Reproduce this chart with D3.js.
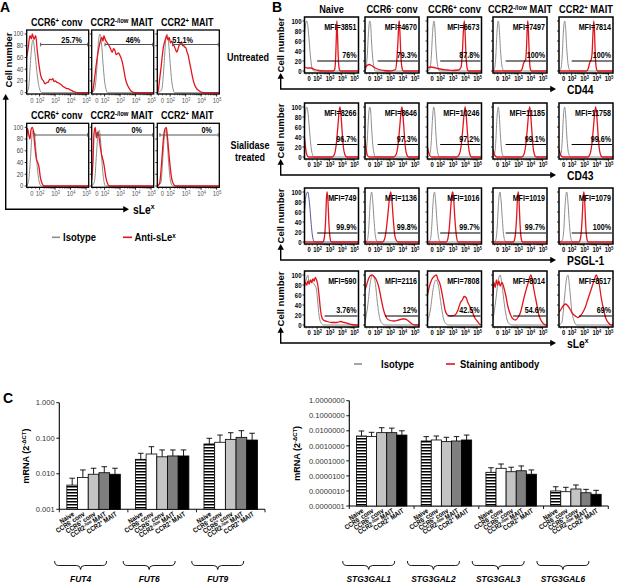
<!DOCTYPE html>
<html>
<head>
<meta charset="utf-8">
<script src="https://cdn.jsdelivr.net/npm/d3@7"></script>
<style>
  html, body { margin: 0; padding: 0; background: #fff; }
  svg { display: block; }
</style>
</head>
<body>
<script>
// ── Data ──────────────────────────────────────────────────────────────────
// Histogram points are [decade position, % of max]; 2 = 10^2, 3 = 10^3 ...

// Panel A: sLeX on sorted subsets, untreated vs sialidase treated
var A_COLS = ["CCR6^+^ conv", "CCR2^-/low^ MAIT", "CCR2^+^ MAIT"];
var A_ROWS = [["Untreated"], ["Sialidase", "treated"]];
var A_PCT  = [["25.7%", "46%", "51.1%"], ["0%", "0%", "0%"]];
var A_GATE = [[2.07, 2.03, 2.16], [1.7, 1.49, 1.34]];

var A_ISO_UNT = [
  [[1.17,0],[1.3,10],[1.42,55],[1.52,85],[1.58,90],[1.65,80],[1.75,55],[1.85,30],[1.95,12],[2.05,3],[2.15,0],[5.14,0]],
  [[1.17,0],[1.35,5],[1.5,40],[1.6,85],[1.7,100],[1.8,85],[1.9,50],[2.0,20],[2.1,5],[2.2,0],[5.14,0]],
  [[1.17,0],[1.45,5],[1.6,45],[1.7,85],[1.8,100],[1.9,85],[2.0,50],[2.1,20],[2.2,5],[2.3,0],[5.14,0]]
];
var A_RED_UNT = [
  [[1.17,60],[1.27,77],[1.38,97],[1.47,92],[1.53,100],[1.64,91],[1.75,97],[1.85,72],[1.98,44],[2.07,30],[2.14,24],
   [2.25,20],[2.35,15],[2.45,17],[2.56,18],[2.66,23],[2.78,22],[2.86,24],[2.93,19],[3.02,20],[3.1,18],[3.2,17],
   [3.32,15],[3.42,13],[3.53,10],[3.63,9],[3.75,7],[3.85,7],[3.96,5],[4.07,4],[4.18,2],[4.3,1],[4.43,0],[5.14,0]],
  [[1.17,0],[1.25,5],[1.34,21],[1.45,45],[1.6,72],[1.7,85],[1.82,94],[1.9,88],[1.96,97],[2.05,90],[2.14,86],
   [2.25,82],[2.35,77],[2.43,72],[2.5,69],[2.58,75],[2.67,72],[2.75,65],[2.82,66],[2.9,68],[3.0,63],[3.08,58],
   [3.17,49],[3.25,38],[3.32,27],[3.42,17],[3.53,10],[3.65,5],[3.75,2],[3.96,0],[5.14,0]],
  [[1.17,0],[1.24,5],[1.3,18],[1.42,45],[1.56,77],[1.68,90],[1.78,97],[1.86,90],[1.94,94],[2.02,85],[2.1,88],
   [2.18,82],[2.25,80],[2.34,74],[2.42,69],[2.5,74],[2.57,80],[2.66,84],[2.74,86],[2.8,80],[2.85,82],[2.92,78],
   [3.0,77],[3.08,70],[3.17,63],[3.25,52],[3.32,43],[3.4,32],[3.49,21],[3.6,12],[3.71,7],[3.82,4],[3.93,2],[4.14,0],[5.14,0]]
];
var A_ISO_SIA = [
  [[1.17,0],[1.3,10],[1.42,50],[1.52,88],[1.6,95],[1.7,82],[1.8,50],[1.9,20],[2.0,5],[2.1,0],[5.14,0]],
  [[1.17,0],[1.35,8],[1.48,55],[1.58,90],[1.66,95],[1.75,75],[1.85,35],[1.95,10],[2.05,0],[5.14,0]],
  [[1.17,0],[1.4,5],[1.52,45],[1.63,85],[1.72,95],[1.8,80],[1.9,40],[2.0,12],[2.1,2],[2.2,0],[5.14,0]]
];
var A_RED_SIA = [
  [[1.17,85],[1.22,98],[1.3,88],[1.38,80],[1.45,96],[1.52,100],[1.6,94],[1.68,72],[1.78,48],[1.88,40],[1.96,33],
   [2.05,15],[2.15,5],[2.3,0],[5.14,0]],
  [[1.17,10],[1.25,40],[1.32,90],[1.4,100],[1.47,82],[1.55,92],[1.63,85],[1.72,68],[1.82,52],[1.92,42],[2.0,30],
   [2.08,15],[2.18,5],[2.3,0],[5.14,0]],
  [[1.17,0],[1.32,5],[1.45,40],[1.58,85],[1.68,98],[1.75,100],[1.83,82],[1.92,55],[2.02,28],[2.12,10],[2.22,3],
   [2.35,0],[5.14,0]]
];

// Panel B: surface markers on five subsets
var B_COLS    = ["Naive", "CCR6^-^ conv", "CCR6^+^ conv", "CCR2^-/low^ MAIT", "CCR2^+^ MAIT"];
var B_MARKERS = ["CD44", "CD43", "PSGL-1", "sLe^x^"];
var B_MFI = [
  [3851, 4670, 6673, 7497, 7814],
  [8266, 8646, 10246, 11185, 11758],
  [749, 1136, 1016, 1019, 1079],
  [590, 2116, 7808, 8014, 8517]
];
var B_PCT = [
  ["76%", "79.3%", "87.8%", "100%", "100%"],
  ["96.7%", "97.3%", "97.2%", "99.1%", "99.6%"],
  ["99.9%", "99.8%", "99.7%", "99.7%", "100%"],
  ["3.76%", "12%", "42.5%", "54.6%", "69%"]
];
var B_GATE_LEVEL = [20, 25, 18, 18];
var B_GATE_START = [2.0, 2.0, 2.0, 2.6];

var B_ISO_CD44 = [
  [[0.97,70],[1.05,92],[1.15,100],[1.25,88],[1.35,60],[1.45,30],[1.55,10],[1.65,2],[1.75,0],[5.36,0]],
  [[0.97,0],[1.05,5],[1.15,30],[1.25,75],[1.35,100],[1.42,95],[1.5,60],[1.6,25],[1.7,8],[1.8,0],[5.36,0]],
  [[0.97,0],[1.15,3],[1.27,25],[1.38,75],[1.48,100],[1.56,90],[1.65,50],[1.75,18],[1.85,4],[1.95,0],[5.36,0]],
  [[0.97,0],[1.1,5],[1.2,30],[1.3,80],[1.4,100],[1.48,85],[1.57,45],[1.67,15],[1.78,3],[1.9,0],[5.36,0]],
  [[0.97,0],[1.13,5],[1.23,30],[1.33,80],[1.43,100],[1.51,85],[1.6,45],[1.7,15],[1.81,3],[1.93,0],[5.36,0]]
];
var B_RED_CD44 = [
  [[0.97,8],[1.2,6],[1.5,6],[1.8,3],[2.1,1],[2.5,0],[3.3,0],[3.42,3],[3.5,25],[3.56,70],[3.6,100],[3.65,75],
   [3.72,25],[3.8,4],[3.9,0],[5.36,0]],
  [[0.97,6],[1.1,10],[1.3,13],[1.5,11],[1.8,6],[2.1,3],[2.5,1],[3.0,0],[3.45,3],[3.55,20],[3.65,60],[3.72,95],
   [3.76,100],[3.82,70],[3.9,25],[4.0,4],[4.1,0],[5.36,0]],
  [[0.97,6],[1.2,8],[1.5,7],[1.8,5],[2.2,3],[2.6,2],[3.0,1],[3.5,2],[3.7,8],[3.8,35],[3.9,85],[3.96,100],[4.02,80],
   [4.1,30],[4.2,5],[4.3,0],[5.36,0]],
  [[0.97,0],[3.2,0],[3.35,5],[3.45,15],[3.55,20],[3.62,22],[3.7,50],[3.76,90],[3.8,100],[3.85,80],[3.92,30],
   [4.0,5],[4.1,0],[5.36,0]],
  [[0.97,0],[3.2,0],[3.35,5],[3.48,18],[3.58,22],[3.66,35],[3.74,80],[3.8,100],[3.86,75],[3.93,25],[4.02,4],
   [4.1,0],[5.36,0]]
];
var B_ISO_CD43 = [
  [[0.97,65],[1.05,90],[1.15,100],[1.25,90],[1.35,62],[1.45,32],[1.55,12],[1.65,3],[1.75,0],[5.36,0]],
  [[0.97,0],[1.05,6],[1.15,32],[1.25,78],[1.35,100],[1.43,92],[1.5,62],[1.6,25],[1.7,8],[1.8,0],[5.36,0]],
  [[0.97,0],[1.15,4],[1.27,28],[1.38,78],[1.48,100],[1.56,88],[1.65,48],[1.75,16],[1.85,4],[1.95,0],[5.36,0]],
  [[0.97,0],[1.1,6],[1.2,32],[1.3,82],[1.4,100],[1.48,84],[1.57,44],[1.67,14],[1.78,3],[1.9,0],[5.36,0]],
  [[0.97,0],[1.13,6],[1.23,32],[1.33,82],[1.43,100],[1.51,84],[1.6,44],[1.7,14],[1.81,3],[1.93,0],[5.36,0]]
];
var B_RED_CD43 = [
  [[0.97,40],[1.05,20],[1.15,5],[1.3,0],[3.2,0],[3.4,5],[3.55,25],[3.68,60],[3.78,90],[3.85,100],[3.92,88],
   [4.02,55],[4.12,22],[4.25,5],[4.4,0],[5.36,0]],
  [[0.97,35],[1.05,18],[1.15,4],[1.3,0],[3.3,0],[3.5,5],[3.66,25],[3.8,62],[3.9,90],[3.97,100],[4.04,88],
   [4.14,55],[4.24,22],[4.36,5],[4.5,0],[5.36,0]],
  [[0.97,20],[1.05,10],[1.15,3],[1.3,0],[3.35,0],[3.55,5],[3.72,25],[3.86,62],[3.96,90],[4.03,100],[4.1,88],
   [4.2,55],[4.3,22],[4.42,5],[4.55,0],[5.36,0]],
  [[0.97,15],[1.05,8],[1.15,2],[1.3,0],[3.3,0],[3.48,5],[3.64,25],[3.78,62],[3.88,90],[3.95,100],[4.02,88],
   [4.12,55],[4.22,22],[4.34,5],[4.48,0],[5.36,0]],
  [[0.97,15],[1.05,8],[1.15,2],[1.3,0],[3.3,0],[3.48,5],[3.64,25],[3.78,62],[3.88,90],[3.95,100],[4.02,88],
   [4.12,55],[4.22,22],[4.34,5],[4.48,0],[5.36,0]]
];
var B_ISO_PSGL = [
  [[0.97,60],[1.05,85],[1.15,98],[1.24,100],[1.32,90],[1.42,65],[1.52,35],[1.62,12],[1.72,2],[1.8,0],[5.36,0]],
  [[0.97,0],[1.15,3],[1.27,25],[1.38,75],[1.48,98],[1.51,100],[1.6,82],[1.7,45],[1.8,15],[1.9,3],[2.0,0],[5.36,0]],
  [[0.97,0],[1.18,3],[1.3,25],[1.41,75],[1.5,98],[1.54,100],[1.63,82],[1.73,45],[1.83,15],[1.93,3],[2.03,0],[5.36,0]],
  [[0.97,0],[1.18,3],[1.3,25],[1.41,75],[1.5,98],[1.54,100],[1.63,82],[1.73,45],[1.83,15],[1.93,3],[2.03,0],[5.36,0]],
  [[0.97,0],[1.24,3],[1.36,25],[1.47,75],[1.56,98],[1.6,100],[1.69,82],[1.79,45],[1.89,15],[1.99,3],[2.09,0],[5.36,0]]
];
var B_RED_PSGL = [
  [[0.97,0],[2.45,0],[2.58,8],[2.68,40],[2.76,90],[2.81,100],[2.87,85],[2.95,40],[3.05,8],[3.15,0],[5.36,0]],
  [[0.97,0],[2.4,0],[2.55,5],[2.7,25],[2.85,60],[2.97,90],[3.06,100],[3.15,85],[3.27,45],[3.4,12],[3.55,2],[3.65,0],[5.36,0]],
  [[0.97,0],[2.5,0],[2.62,6],[2.75,30],[2.88,75],[2.97,97],[3.03,100],[3.1,85],[3.2,45],[3.32,12],[3.45,0],[5.36,0]],
  [[0.97,0],[2.62,0],[2.75,8],[2.88,45],[2.97,92],[3.03,100],[3.09,80],[3.17,35],[3.27,6],[3.37,0],[5.36,0]],
  [[0.97,0],[2.59,0],[2.72,8],[2.85,45],[2.94,92],[3.0,100],[3.06,80],[3.14,35],[3.24,6],[3.34,0],[5.36,0]]
];
var B_ISO_SLEX = [
  [[0.97,75],[1.1,90],[1.25,100],[1.35,85],[1.5,90],[1.65,85],[1.8,80],[1.95,70],[2.05,45],[2.15,20],[2.3,5],[2.5,0],[5.36,0]],
  [[0.97,5],[1.2,40],[1.4,85],[1.6,100],[1.8,85],[2.0,40],[2.2,10],[2.4,2],[2.6,0],[5.36,0]],
  [[0.97,5],[1.2,30],[1.45,75],[1.65,90],[1.85,80],[2.05,45],[2.25,15],[2.45,3],[2.7,0],[5.36,0]],
  [[0.97,10],[1.2,50],[1.4,90],[1.55,100],[1.7,80],[1.9,40],[2.1,12],[2.3,2],[2.5,0],[5.36,0]],
  [[0.97,0],[1.2,5],[1.4,50],[1.6,95],[1.7,100],[1.85,70],[2.0,30],[2.2,8],[2.4,0],[5.36,0]]
];
var B_RED_SLEX = [
  [[0.97,82],[1.05,85],[1.15,80],[1.25,88],[1.35,82],[1.45,90],[1.55,85],[1.65,92],[1.75,88],[1.85,95],[1.95,90],
   [2.05,80],[2.15,60],[2.25,35],[2.35,18],[2.5,10],[2.8,7],[3.2,5],[3.6,5],[3.9,7],[4.2,5],[4.5,3],[4.8,1],[5.1,0],[5.36,0]],
  [[0.97,70],[1.1,80],[1.3,95],[1.5,100],[1.7,97],[1.9,90],[2.1,75],[2.3,50],[2.5,28],[2.7,15],[2.9,10],[3.3,8],
   [3.7,10],[4.0,12],[4.2,12],[4.4,10],[4.6,6],[4.8,2],[5.0,0],[5.36,0]],
  [[0.97,60],[1.1,75],[1.3,90],[1.5,97],[1.7,100],[1.8,92],[1.95,85],[2.1,70],[2.25,50],[2.4,30],[2.6,20],[2.9,18],
   [3.2,20],[3.45,30],[3.65,45],[3.8,50],[3.95,57],[4.1,55],[4.25,45],[4.4,38],[4.6,28],[4.8,15],[5.0,8],[5.2,2],[5.35,0]],
  [[0.97,60],[1.05,85],[1.15,75],[1.25,90],[1.35,80],[1.45,88],[1.55,78],[1.7,85],[1.85,75],[2.0,60],[2.2,35],
   [2.4,20],[2.6,12],[2.8,10],[3.0,15],[3.2,25],[3.4,45],[3.6,65],[3.8,82],[3.95,95],[4.05,100],[4.15,92],[4.3,70],
   [4.5,45],[4.7,20],[4.9,8],[5.1,2],[5.3,0]],
  [[0.97,25],[1.1,30],[1.3,38],[1.5,42],[1.7,38],[1.9,30],[2.1,22],[2.3,18],[2.5,15],[2.7,18],[2.9,25],[3.1,35],
   [3.3,50],[3.5,65],[3.7,80],[3.9,95],[4.0,100],[4.1,95],[4.25,80],[4.4,55],[4.6,30],[4.8,12],[5.0,4],[5.2,0],[5.36,0]]
];
var B_ISO = [B_ISO_CD44, B_ISO_CD43, B_ISO_PSGL, B_ISO_SLEX];
var B_RED = [B_RED_CD44, B_RED_CD43, B_RED_PSGL, B_RED_SLEX];

// Panel C: qPCR, mRNA (2^-dCT), mean and upper error
var C_CELLS = ["Naive", "CCR6^-^ conv", "CCR6^+^ conv", "CCR2^-/low^ MAIT", "CCR2^+^ MAIT"];
var FUT_GENES = ["FUT4", "FUT6", "FUT9"];
var FUT_MEAN  = [[0.0048, 0.0079, 0.0097, 0.0107, 0.0097],
                 [0.0255, 0.036, 0.030, 0.0317, 0.0317],
                 [0.069, 0.077, 0.093, 0.106, 0.089]];
var FUT_UPPER = [[0.0075, 0.0128, 0.0143, 0.0158, 0.0143],
                 [0.0377, 0.0578, 0.0468, 0.0468, 0.0468],
                 [0.0995, 0.123, 0.143, 0.163, 0.138]];
var STG_GENES = ["STG3GAL1", "STG3GAL2", "STG3GAL3", "STG3GAL6"];
var STG_MEAN  = [[0.0045, 0.0041, 0.0075, 0.0075, 0.0052],
                 [0.0021, 0.00245, 0.0019, 0.0021, 0.00245],
                 [1.74e-5, 3.2e-5, 1.9e-5, 2.2e-5, 1.3e-5],
                 [1.0e-6, 8.9e-7, 1.35e-6, 7.6e-7, 6.0e-7]];
var STG_UPPER = [[0.0097, 0.0079, 0.016, 0.015, 0.010],
                 [0.0041, 0.0045, 0.0037, 0.0041, 0.0052],
                 [3.5e-5, 6.2e-5, 3.8e-5, 4.6e-5, 2.5e-5],
                 [1.9e-6, 1.75e-6, 2.5e-6, 1.28e-6, 1.1e-6]];
var FUT_TICKS = [0.001, 0.01, 0.1, 1];
var STG_TICKS = [1e-7, 1e-6, 1e-5, 1e-4, 1e-3, 1e-2, 1e-1, 1];
var BAR_FILLS = ["url(#hatch)", "#fff", "#c4c4c4", "#7f7f7f", "#000"];

// ── Setup ─────────────────────────────────────────────────────────────────
var RED = "#e3141c", GREY = "#8e8e8e", PURPLE = "#56569c";
var FONT = '"Liberation Sans",Arial,sans-serif';
var SX = 0.86;   // the figure's lettering is slightly condensed

var svg = d3.select("body").append("svg")
  .attr("width", 617).attr("height", 583)
  .attr("font-family", FONT);
var defs = svg.append("defs");

var hatch = defs.append("pattern").attr("id", "hatch")
  .attr("patternUnits", "userSpaceOnUse").attr("width", 4).attr("height", 3);
hatch.append("rect").attr("width", 4).attr("height", 3).attr("fill", "#fff");
hatch.append("rect").attr("width", 4).attr("height", 1.5).attr("fill", "#000");

// text with ^superscript^ parts
function rich(sel, str) {
  str.split("^").forEach(function (part, i) {
    if (!part) return;
    var t = sel.append("tspan").text(part);
    if (i % 2 === 1) t.attr("font-size", "0.66em").attr("baseline-shift", "super");
  });
  return sel;
}

function label(x, y, str, size, opts) {
  opts = opts || {};
  var sx = opts.sx != null ? opts.sx : SX;
  var tf = "translate(" + x + "," + y + ")" +
           (opts.rotate ? " rotate(" + opts.rotate + ")" : "") +
           " scale(" + sx + ",1)";
  var t = svg.append("text").attr("transform", tf)
    .attr("font-size", size)
    .attr("font-weight", opts.weight || "bold")
    .attr("fill", opts.fill || "#000")
    .attr("text-anchor", opts.anchor || "start");
  if (opts.italic) t.attr("font-style", "italic");
  return rich(t, str);
}

function arrowHead(x, y, dir) {
  var s = 3.2;
  var pts = dir === "up"
    ? [[x, y], [x - s, y + s * 1.8], [x + s, y + s * 1.8]]
    : [[x, y], [x - s * 1.8, y - s], [x - s * 1.8, y + s]];
  svg.append("path").attr("d", "M" + pts.join("L") + "Z").attr("fill", "#000");
}

// ── Histogram box ─────────────────────────────────────────────────────────
var clipN = 0;
function histBox(cfg, iso, red, isoCol) {
  var x = d3.scaleLinear().domain(cfg.cDom).range([cfg.left, cfg.left + cfg.w]);
  var y = d3.scaleLinear().domain([0, 100]).range([cfg.top + cfg.o0, cfg.top + cfg.o100]);
  var id = "clip" + (clipN++);
  defs.append("clipPath").attr("id", id).append("rect")
    .attr("x", cfg.left).attr("y", cfg.top).attr("width", cfg.w).attr("height", cfg.h);

  var line = d3.line()
    .x(function (d) { return x(d[0]); })
    .y(function (d) { return y(d[1]); })
    .curve(d3.curveMonotoneX);

  var g = svg.append("g");
  var cg = g.append("g").attr("clip-path", "url(#" + id + ")");
  cg.append("path").attr("d", line(iso)).attr("fill", "none")
    .attr("stroke", isoCol).attr("stroke-width", 1);
  cg.append("path").attr("d", line(red)).attr("fill", "none")
    .attr("stroke", RED).attr("stroke-width", 1.3);

  g.append("rect").attr("x", cfg.left).attr("y", cfg.top)
    .attr("width", cfg.w).attr("height", cfg.h)
    .attr("fill", "none").attr("stroke", "#000").attr("stroke-width", cfg.sw);

  // y ticks
  d3.range(0, 101, 20).forEach(function (v) {
    g.append("line").attr("x1", cfg.left - 2).attr("x2", cfg.left)
      .attr("y1", y(v)).attr("y2", y(v)).attr("stroke", "#000").attr("stroke-width", 0.8);
  });
  // x ticks: decades and minor log ticks
  var yb = cfg.top + cfg.h;
  [2, 3, 4, 5].forEach(function (d) {
    g.append("line").attr("x1", x(d)).attr("x2", x(d)).attr("y1", yb).attr("y2", yb + 2.5)
      .attr("stroke", "#000").attr("stroke-width", 0.8);
    if (d < 5) d3.range(2, 10).forEach(function (k) {
      var c = d + Math.log10(k);
      g.append("line").attr("x1", x(c)).attr("x2", x(c)).attr("y1", yb).attr("y2", yb + 1.3)
        .attr("stroke", "#000").attr("stroke-width", 0.6);
    });
  });
  [cfg.zero - 0.25, cfg.zero, cfg.zero + 0.25].forEach(function (c) {
    g.append("line").attr("x1", x(c)).attr("x2", x(c)).attr("y1", yb).attr("y2", yb + 1.5)
      .attr("stroke", "#000").attr("stroke-width", 0.6);
  });
  return { x: x, y: y, g: g };
}

function xTickLabels(s, cfg, yy, size, fill, weight) {
  label(s.x(cfg.zero), yy, "0", size, { anchor: "middle", fill: fill, weight: weight });
  [2, 3, 4, 5].forEach(function (d) {
    label(s.x(d) + 0.5, yy, "10^" + d + "^", size, { anchor: "middle", fill: fill, weight: weight });
  });
}

// ── Panel A ───────────────────────────────────────────────────────────────
label(0, 12, "A", 14, { sx: 1 });
var A_LEFT = [26.7, 91.7, 157.3], A_TOP = [30, 123.3];
var A_PCT_X = [[45, 41.3, 25.4], [34.3, 45, 49.4]];
var A_GATE_Y = [82, 87];
[A_ISO_UNT, A_ISO_SIA].forEach(function (isoRow, r) {
  var redRow = r === 0 ? A_RED_UNT : A_RED_SIA;
  A_LEFT.forEach(function (L, c) {
    var cfg = { left: L, top: A_TOP[r], w: 62, h: 64, o100: 4, o0: 62.7,
                cDom: [1.17, 5.17], zero: 1.5, sw: 1.3 };
    var s = histBox(cfg, isoRow[c], redRow[c], GREY);
    label(L + 30, A_TOP[r] - 4, A_COLS[c], 10, { anchor: "middle", sx: 0.9 });
    xTickLabels(s, cfg, A_TOP[r] + 73, 6.8, "#555", "normal");
    if (c === 0) {
      d3.range(0, 101, 20).forEach(function (v) {
        label(L - 3.5, s.y(v) + 2.3, String(v), 6.8, { anchor: "end", fill: "#444", weight: "normal" });
      });
    }
    // gate
    var gy = s.y(A_GATE_Y[r]), gx1 = s.x(A_GATE[r][c]), gx2 = L + 61;
    s.g.append("line").attr("x1", gx1).attr("x2", gx2).attr("y1", gy).attr("y2", gy)
      .attr("stroke", "#555").attr("stroke-width", 1.1);
    [gx1, gx2].forEach(function (gx) {
      s.g.append("line").attr("x1", gx).attr("x2", gx).attr("y1", gy - 1.8).attr("y2", gy + 1.8)
        .attr("stroke", "#555").attr("stroke-width", 1);
    });
    label(L + A_PCT_X[r][c], gy - 2, A_PCT[r][c], 8.5, { anchor: "middle" });
  });
});
label(248, 61, A_ROWS[0][0], 10.5, { anchor: "middle" });
label(250, 149, A_ROWS[1][0], 10.5, { anchor: "middle" });
label(250, 160.5, A_ROWS[1][1], 10.5, { anchor: "middle" });

// axis arrows for A
svg.append("path").attr("d", "M5.7,99 V209.3 H124").attr("fill", "none")
  .attr("stroke", "#000").attr("stroke-width", 1.4);
arrowHead(5.7, 94, "up");
arrowHead(129, 209.3, "right");
label(11.5, 60, "Cell number", 9.5, { anchor: "middle", rotate: -90, sx: 1 });
label(133, 213.5, "sLe^x^", 12);

// legend A
svg.append("line").attr("x1", 52).attr("x2", 60).attr("y1", 237.3).attr("y2", 237.3)
  .attr("stroke", GREY).attr("stroke-width", 1.6);
label(63, 241.3, "Isotype", 11);
svg.append("line").attr("x1", 123).attr("x2", 132).attr("y1", 237.3).attr("y2", 237.3)
  .attr("stroke", RED).attr("stroke-width", 1.6);
label(134.5, 241.3, "Anti-sLe^x^", 11);

// ── Panel B ───────────────────────────────────────────────────────────────
label(272, 12, "B", 14, { sx: 1 });
var B_LEFT = [304.5, 365, 427.5, 493, 559], B_TOP = [17, 103, 188, 271];
B_COLS.forEach(function (name, c) {
  label(B_LEFT[c] + 27, 13, name, 10.5, { anchor: "middle", sx: 0.88 });
});
B_TOP.forEach(function (T, r) {
  B_LEFT.forEach(function (L, c) {
    var cfg = { left: L, top: T, w: 54, h: 56, o100: 4, o0: 54,
                cDom: [0.97, 5.36], zero: 1.35, sw: 1.5 };
    var isoCol = (r === 2 && c === 0) ? PURPLE : GREY;
    var s = histBox(cfg, B_ISO[r][c], B_RED[r][c], isoCol);
    xTickLabels(s, cfg, T + 64, 6.8, "#000", "bold");
    if (c === 0) {
      d3.range(0, 101, 20).forEach(function (v) {
        label(L - 3, s.y(v) + 2.5, String(v), 7, { anchor: "end" });
      });
    }
    var gy = s.y(B_GATE_LEVEL[r]);
    s.g.append("line").attr("x1", s.x(B_GATE_START[r])).attr("x2", L + 53)
      .attr("y1", gy).attr("y2", gy).attr("stroke", "#000").attr("stroke-width", 1.1);
    label(L + 52, gy - 3, B_PCT[r][c], 8.3, { anchor: "end" });
    label(L + 52, s.y(88) + 3, "MFI=" + B_MFI[r][c], 8.3, { anchor: "end" });
  });
  // arrows
  var cy = T + 72;
  svg.append("path").attr("d", "M280.7," + (T + 61) + " V" + cy + " H551")
    .attr("fill", "none").attr("stroke", "#000").attr("stroke-width", 1.4);
  arrowHead(280.7, T + 56, "up");
  arrowHead(556, cy, "right");
  label(284, T + 28, "Cell number", 9.5, { anchor: "middle", rotate: -90, sx: 1 });
  label(567, cy + 4.5, B_MARKERS[r], 12);
});

// legend B
svg.append("line").attr("x1", 354).attr("x2", 362).attr("y1", 364).attr("y2", 364)
  .attr("stroke", GREY).attr("stroke-width", 1.6);
label(381, 368, "Isotype", 11);
svg.append("line").attr("x1", 446).attr("x2", 455).attr("y1", 364).attr("y2", 364)
  .attr("stroke", RED).attr("stroke-width", 1.6);
label(460, 368, "Staining antibody", 11);

// ── Panel C ───────────────────────────────────────────────────────────────
label(3, 403, "C", 14, { sx: 1 });

function braceRow(genes, xg, braceShift, yBase) {
  genes.forEach(function (gname) {
    var xm = xg(gname) + xg.bandwidth() / 2 + braceShift;
    var x1 = xm - 26, x2 = xm + 26, y0 = yBase, y1 = yBase + 4.5, y2 = yBase + 8.5;
    var d = "M" + x1 + "," + y0 + " Q" + x1 + "," + y1 + " " + (x1 + 4) + "," + y1 +
            " L" + (xm - 4) + "," + y1 + " Q" + xm + "," + y1 + " " + xm + "," + y2 +
            " Q" + xm + "," + y1 + " " + (xm + 4) + "," + y1 +
            " L" + (x2 - 4) + "," + y1 + " Q" + x2 + "," + y1 + " " + x2 + "," + y0;
    svg.append("path").attr("d", d).attr("fill", "none").attr("stroke", "#000").attr("stroke-width", 0.9);
    label(xm, yBase + 21, gname, 9.8, { anchor: "middle", italic: true });
  });
}

function barChart(genes, means, uppers, ticks, tickFmt, yDom, yRange, xRange, labelX) {
  var y = d3.scaleLog().domain(yDom).range(yRange);
  var xg = d3.scaleBand().domain(genes).range(xRange);
  var xb = d3.scaleBand().domain(d3.range(C_CELLS.length))
    .range([xg.bandwidth() * 0.11, xg.bandwidth() * 0.89]);
  var x0 = xRange[0], yb = yRange[0];

  // axes
  svg.append("line").attr("x1", x0).attr("x2", x0).attr("y1", yRange[1]).attr("y2", yb)
    .attr("stroke", "#000").attr("stroke-width", 1.1);
  svg.append("line").attr("x1", x0).attr("x2", xRange[1]).attr("y1", yb).attr("y2", yb)
    .attr("stroke", "#000").attr("stroke-width", 1.1);
  ticks.forEach(function (t) {
    svg.append("line").attr("x1", x0 - 3).attr("x2", x0).attr("y1", y(t)).attr("y2", y(t))
      .attr("stroke", "#000").attr("stroke-width", 0.9);
    label(x0 - 4.5, y(t) + 2.7, tickFmt(t), 8, { anchor: "end", fill: "#333", weight: "normal", sx: 0.95 });
  });
  genes.forEach(function (gname) {
    svg.append("line").attr("x1", xg(gname)).attr("x2", xg(gname)).attr("y1", yb).attr("y2", yb + 3)
      .attr("stroke", "#000").attr("stroke-width", 0.9);
  });
  svg.append("line").attr("x1", xRange[1]).attr("x2", xRange[1]).attr("y1", yb).attr("y2", yb + 3)
    .attr("stroke", "#000").attr("stroke-width", 0.9);

  genes.forEach(function (gname, gi) {
    C_CELLS.forEach(function (cell, ci) {
      var bx = xg(gname) + xb(ci), bw = xb.bandwidth(), v = means[gi][ci], u = uppers[gi][ci];
      var cx = bx + bw / 2;
      svg.append("line").attr("x1", cx).attr("x2", cx).attr("y1", y(v)).attr("y2", y(u))
        .attr("stroke", "#000").attr("stroke-width", 0.9);
      svg.append("line").attr("x1", cx - 2.8).attr("x2", cx + 2.8).attr("y1", y(u)).attr("y2", y(u))
        .attr("stroke", "#000").attr("stroke-width", 0.9);
      svg.append("rect").attr("x", bx).attr("y", y(v)).attr("width", bw).attr("height", yb - y(v))
        .attr("fill", BAR_FILLS[ci]).attr("stroke", "#000").attr("stroke-width", 0.8);
      label(cx + 2.5, yb + 6, cell, 7, { anchor: "end", rotate: -33, sx: 0.85 });
    });
  });
  braceRow(genes, xg, -13, 561);
  label(labelX, (yRange[0] + yRange[1]) / 2, "mRNA (2^-ΔCT^)", 9, { anchor: "middle", rotate: -90, sx: 1 });
}

barChart(FUT_GENES, FUT_MEAN, FUT_UPPER, FUT_TICKS, d3.format(".3f"),
         [0.001, 1], [509.3, 402.7], [59.3, 265], 29);
barChart(STG_GENES, STG_MEAN, STG_UPPER, STG_TICKS, d3.format(".7f"),
         [1e-7, 1], [506, 400.7], [349.3, 608.3], 300);
</script>
</body>
</html>
